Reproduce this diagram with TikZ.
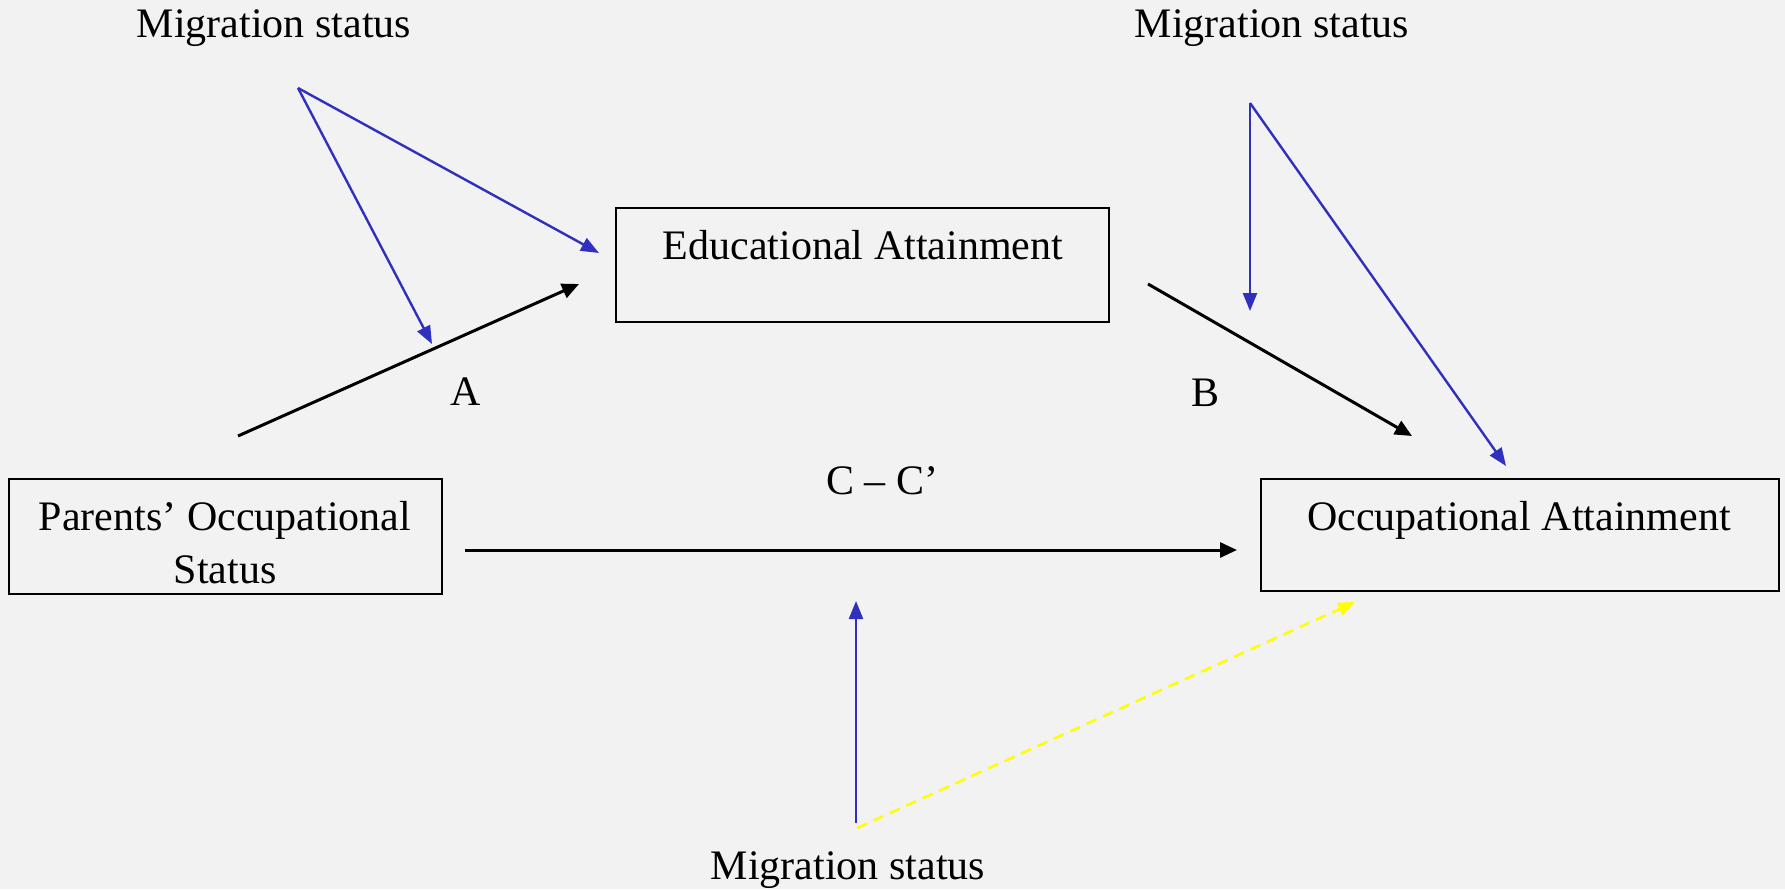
\documentclass[tikz,border=0pt]{standalone}
\usepackage{fontspec}
\setmainfont{Liberation Serif}
\usetikzlibrary{arrows.meta}
\definecolor{bgcol}{RGB}{242,242,242}
\definecolor{modblue}{RGB}{48,48,190}
\definecolor{dyellow}{RGB}{255,255,0}
\begin{document}
\begin{tikzpicture}[x=1pt,y=-1pt,
  box/.style={draw=black, line width=2pt, inner sep=0pt},
  lbl/.style={font=\fontsize{42}{53}\selectfont, inner sep=0pt, anchor=base},
  pathline/.style={black, line width=3pt, -{Triangle[length=17pt,width=15pt]}},
  modline/.style={modblue, line width=2.4pt, -{Triangle[length=18pt,width=14pt]}},
  yelline/.style={dyellow, line width=2.5pt, dash pattern=on 11pt off 7pt, -{Triangle[length=17pt,width=13pt]}}]
\fill[bgcol] (0,0) rectangle (1785,889);
\useasboundingbox (0,0) rectangle (1785,889);

% boxes
\node[box, minimum width=493pt, minimum height=114pt] (edu) at (862.5,265) {};
\node[box, minimum width=518pt, minimum height=112pt] (occ) at (1520,535) {};
\node[box, minimum width=433pt, minimum height=115pt] (par) at (225.5,536.5) {};

% box texts
\node[lbl] (edut) at (863,259) {Educational Attainment};
\node[lbl] (occt) at (1519,530) {Occupational Attainment};
\node[lbl] (part1) at (225,530) {Parents’ Occupational};
\node[lbl] (part2) at (225,583) {Status};

% other labels
\node[lbl] (mig1) at (274,37) {Migration status};
\node[lbl] (mig2) at (1272,37) {Migration status};
\node[lbl] (mig3) at (848,879) {Migration status};
\node[lbl] (la) at (466,405) {A};
\node[lbl] (lb) at (1205,406) {B};
\node[lbl] (lc) at (882,494) {C – C’};

% connector coordinates
\coordinate (aS) at (238,436);
\coordinate (aE) at (579,284);
\coordinate (bS) at (1148,284);
\coordinate (bE) at (1412,436);
\coordinate (cS) at (465,550);
\coordinate (cE) at (1237,550);
\coordinate (m1) at (298,88);
\coordinate (m1a) at (432,344);
\coordinate (m1b) at (599,253);
\coordinate (m2) at (1250,103);
\coordinate (m2a) at (1250,311);
\coordinate (m2b) at (1506,466);
\coordinate (m3) at (856,823);
\coordinate (m3a) at (856,601);
\coordinate (y3) at (857,828);
\coordinate (y3a) at (1355,602);

% main paths
\draw[pathline] (aS) -- (aE);
\draw[pathline] (bS) -- (bE);
\draw[pathline] (cS) -- (cE);

% moderation arrows
\draw[modline] (m1) -- (m1a);
\draw[modline] (m1) -- (m1b);
\draw[modline] (m2) -- (m2a);
\draw[modline] (m2) -- (m2b);
\draw[modline] (m3) -- (m3a);
\draw[yelline] (y3) -- (y3a);
\end{tikzpicture}
\end{document}
